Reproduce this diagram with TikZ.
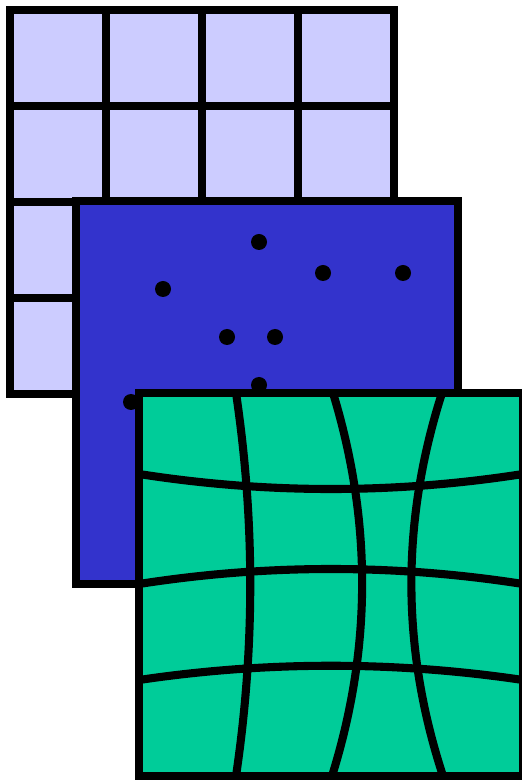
\documentclass[tikz,border=0pt]{standalone}
\usepackage{tikz}
\usetikzlibrary{calc}
\definecolor{gridlavender}{RGB}{204, 204, 255}
\definecolor{pointblue}{RGB}{51, 51, 204}
\definecolor{warpgreen}{RGB}{0, 204, 153}

\begin{document}
\begin{tikzpicture}[x=0.01cm, y=-0.01cm, line width=2.3pt]
        \useasboundingbox (0,0) rectangle (521,780);
        % regular grid
        \fill[gridlavender] (10,10) rectangle (394,394);
        \foreach \t in {106,202,298} {
          \draw (\t,10) -- (\t,394);
          \draw (10,\t) -- (394,\t); }
        \draw (10,10) rectangle (394,394);
        % scattered points
        \draw[fill=pointblue] (76,201) rectangle (458,584);
        \foreach \p in {(259,242),(323,273),(403,273),(163,289),(227,337),(275,337),(259,385),(131,402)}
          \fill \p circle (8);
        % warped grid
        \fill[warpgreen] (139,393) rectangle (523,776);
        \draw (236,393) .. controls (255,521) and (255,648) .. (236,776);
        \draw (333,393) .. controls (372,521) and (372,648) .. (332,776);
        \draw (442,393) .. controls (401,521) and (401,648) .. (443,776);
        \draw (139,474) .. controls (267,494) and (395,494) .. (523,474);
        \draw (139,584) .. controls (267,564) and (395,564) .. (523,584);
        \draw (139,680) .. controls (267,661) and (395,661) .. (523,680);
        \draw (139,393) rectangle (523,776);
      \end{tikzpicture}
\end{document}
